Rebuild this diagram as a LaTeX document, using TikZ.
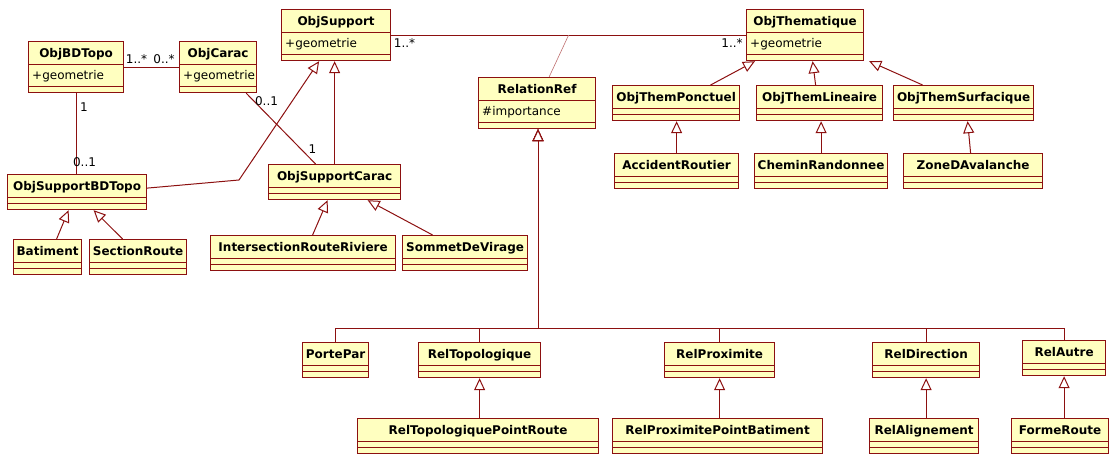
\documentclass[tikz,border=0pt]{standalone}
\usepackage{fontspec}
\usetikzlibrary{arrows.meta,positioning}
\newfontfamily\umlfont{DejaVu Sans}
\definecolor{UmlRed}{RGB}{140,16,16}
\definecolor{UmlYellow}{RGB}{255,255,192}
\definecolor{LinkRed}{RGB}{190,110,110}
\tikzset{
  classbox/.style={draw=UmlRed,fill=UmlYellow,line width=1.2pt,anchor=north west,
    inner sep=0pt,text width=#1,align=center,
    font=\umlfont\bfseries\fontsize{12}{14}\selectfont,
    text height=16pt,text depth=19pt,
    path picture={
      \draw[UmlRed,line width=1.2pt]
        ([yshift=-23pt]path picture bounding box.north west) --
        ([yshift=-23pt]path picture bounding box.north east)
        ([yshift=6pt]path picture bounding box.south west) --
        ([yshift=6pt]path picture bounding box.south east);}},
  withattr/.style={text depth=35pt},
  attrtext/.style={anchor=base west,inner sep=0pt,
    font=\umlfont\fontsize{12}{14}\selectfont},
  mult/.style={inner sep=0pt,font=\umlfont\fontsize{12}{14}\selectfont},
  inherit/.style={-{Triangle[length=12pt,width=11pt,fill=white]},line width=1pt,UmlRed},
  assoc/.style={line width=1pt,UmlRed},
  assoclink/.style={line width=0.6pt,LinkRed}
}

\begin{document}
\begin{tikzpicture}[x=1pt,y=-1pt]
      \useasboundingbox (0,0) rectangle (1110,455);
      \node[classbox=95pt,withattr] (bdtopo) at (28,41) {ObjBDTopo};
      \node[classbox=77pt,withattr] (carac) at (179,41) {ObjCarac};
      \node[classbox=109pt,withattr] (support) at (281,9) {ObjSupport};
      \node[classbox=117pt,withattr] (thema) at (746,9) {ObjThematique};
      \node[classbox=117pt,withattr] (relref) at (478,77) {RelationRef};
      \node[attrtext] (bdtopoattr) at ([xshift=4pt,yshift=-38.5pt]bdtopo.north west) {+geometrie};
      \node[attrtext] (caracattr) at ([xshift=4pt,yshift=-38.5pt]carac.north west) {+geometrie};
      \node[attrtext] (supportattr) at ([xshift=4pt,yshift=-38.5pt]support.north west) {+geometrie};
      \node[attrtext] (themaattr) at ([xshift=4pt,yshift=-38.5pt]thema.north west) {+geometrie};
      \node[attrtext] (relrefattr) at ([xshift=4pt,yshift=-38.5pt]relref.north west) {\#importance};
      \node[classbox=139pt] (sbdtopo) at (7,174) {ObjSupportBDTopo};
      \node[classbox=132pt] (scarac) at (268,164) {ObjSupportCarac};
      \node[classbox=68pt] (batiment) at (13,239) {Batiment};
      \node[classbox=97pt] (sroute) at (89,239) {SectionRoute};
      \node[classbox=185pt] (interrr) at (210,235) {IntersectionRouteRiviere};
      \node[classbox=125pt] (sommet) at (402,235) {SommetDeVirage};
      \node[classbox=127pt] (ponctuel) at (612,85) {ObjThemPonctuel};
      \node[classbox=126pt] (lineaire) at (756,85) {ObjThemLineaire};
      \node[classbox=140pt] (surfacique) at (893,85) {ObjThemSurfacique};
      \node[classbox=124pt] (accident) at (614,153) {AccidentRoutier};
      \node[classbox=133pt] (chemin) at (754,153) {CheminRandonnee};
      \node[classbox=139pt] (zone) at (903,153) {ZoneDAvalanche};
      \node[classbox=66pt] (portepar) at (302,342) {PortePar};
      \node[classbox=122pt] (reltopo) at (418,342) {RelTopologique};
      \node[classbox=110pt] (relprox) at (664,342) {RelProximite};
      \node[classbox=107pt] (reldir) at (872,342) {RelDirection};
      \node[classbox=83pt] (relautre) at (1022,340) {RelAutre};
      \node[classbox=241pt] (reltopopr) at (357,418) {RelTopologiquePointRoute};
      \node[classbox=210pt] (relproxpb) at (612,418) {RelProximitePointBatiment};
      \node[classbox=109pt] (relalign) at (869,418) {RelAlignement};
      \node[classbox=97pt] (formeroute) at (1011,418) {FormeRoute};
      \draw[assoc] (bdtopo.east) -- (carac.west);
      \draw[assoc] (bdtopo.south) -- (bdtopo.south |- sbdtopo.north);
      \draw[assoc] ([xshift=-11pt]carac.south east) -- ([xshift=-19pt]scarac.north);
      \draw[assoc] (support.east) -- coordinate[midway] (relmid) (thema.west);
      \draw[assoclink] (relmid) -- ([xshift=12pt]relref.north);
      \node[mult] (bdtopomult) at (136.5,59) {1..*};
      \node[mult] (caracmult) at (164,59) {0..*};
      \node[mult] (bdtopomultb) at (84,107.5) {1};
      \node[mult] (sbdtopomult) at (84.5,162) {0..1};
      \node[mult] (caracmultb) at (266.5,101.5) {0..1};
      \node[mult] (scaracmult) at (312.5,149.5) {1};
      \node[mult] (supportmult) at (404.5,43.5) {1..*};
      \node[mult] (themamult) at (732,43.5) {1..*};
      \coordinate (bend) at (239,180);
      \draw[inherit] ([yshift=4pt]sbdtopo.east) -- (bend) -- ([xshift=-17pt]support.south);
      \draw[inherit] (scarac.north) -- (scarac.north |- support.south);
      \draw[inherit] ([xshift=9pt]batiment.north) -- ([xshift=-8.5pt]sbdtopo.south);
      \draw[inherit] ([xshift=-15.5pt]sroute.north) -- ([xshift=16.5pt]sbdtopo.south);
      \draw[inherit] ([xshift=9.5pt]interrr.north) -- ([xshift=-7pt]scarac.south);
      \draw[inherit] ([xshift=-32.5pt]sommet.north) -- ([xshift=33pt]scarac.south);
      \draw[inherit] ([xshift=34.5pt]ponctuel.north) -- ([xshift=9pt]thema.south west);
      \draw[inherit] ([xshift=-4pt]lineaire.north) -- ([xshift=7.5pt]thema.south);
      \draw[inherit] ([xshift=-41pt]surfacique.north) -- ([xshift=5pt]thema.south east);
      \draw[inherit] (accident.north) -- (accident.north |- ponctuel.south);
      \draw[inherit] (chemin.north) -- (chemin.north |- lineaire.south);
      \draw[inherit] ([xshift=-2.5pt]zone.north) -- ([xshift=4pt]surfacique.south);
      \draw[inherit] (reltopopr.north -| reltopo.south) -- (reltopo.south);
      \draw[inherit] (relproxpb.north -| relprox.south) -- (relprox.south);
      \draw[inherit] (relalign.north -| reldir.south) -- (reldir.south);
      \draw[inherit] (formeroute.north -| relautre.south) -- (relautre.south);
      \coordinate (bus) at (538,328);
      \foreach \sub in {portepar,reltopo,relprox,reldir,relautre}
        \draw[inherit] (\sub.north) |- (bus) -- (bus |- relref.south);
    \end{tikzpicture}
\end{document}
